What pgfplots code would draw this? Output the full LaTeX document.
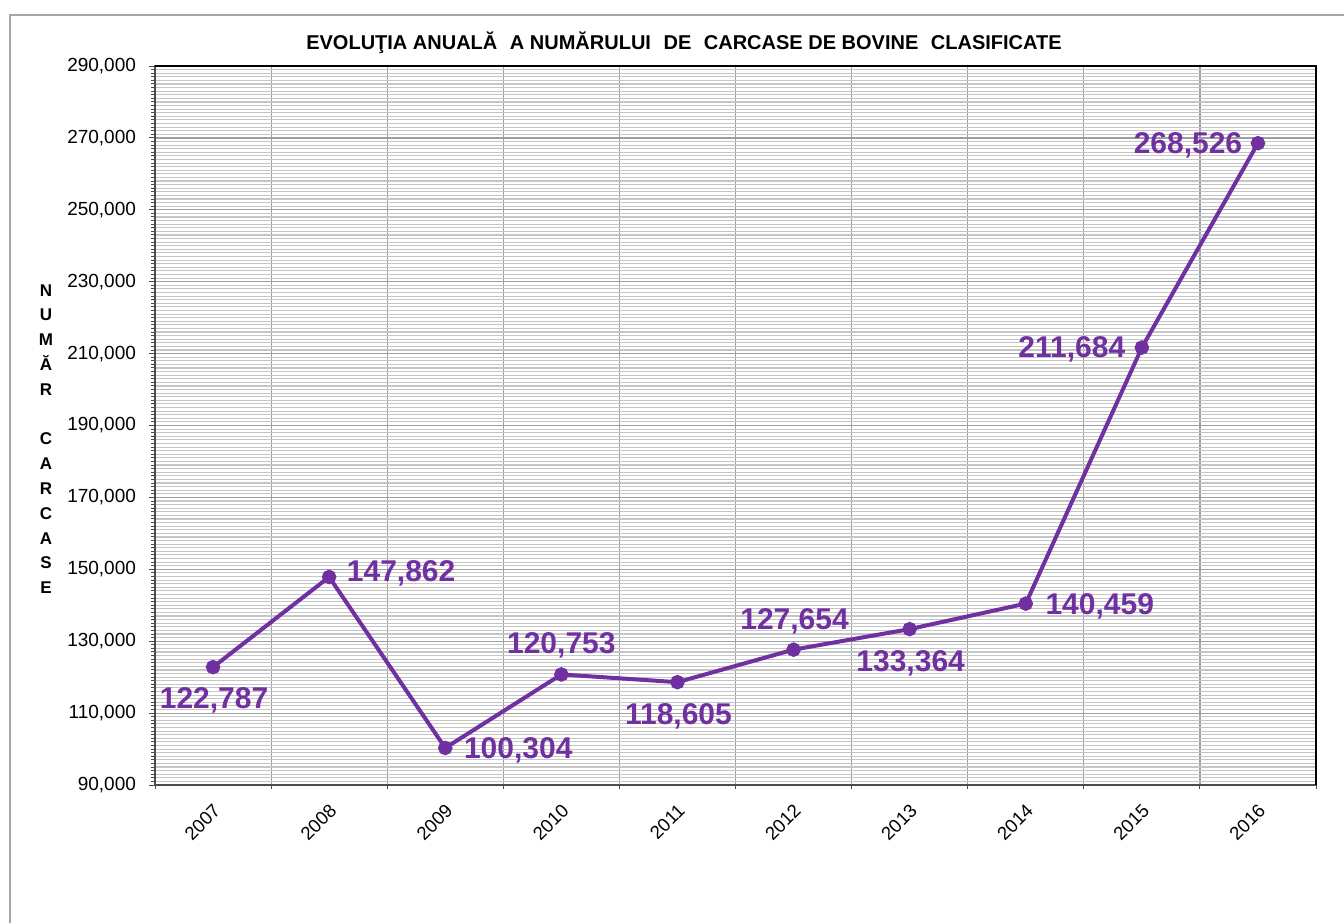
\documentclass[border=0pt]{standalone}
\usepackage{fontspec}
\setmainfont{Liberation Sans}
\usepackage{pgfplots}
\usepackage{pgfplotstable}
\pgfplotsset{compat=1.18}
\definecolor{linepurple}{RGB}{112,48,160}
\pgfplotstableread{
x y dx dy
0 122787 0.5 -16.5
1 147862 36 2
2 100304 36.5 -1
3 120753 0 14.5
4 118605 0.5 -17
5 127654 0.5 14
6 133364 0.5 -17
7 140459 37 -1.5
8 211684 -35 -1
9 268526 -35 -1
}\datatable
\begin{document}
\begin{tikzpicture}[x=1pt,y=1pt]
\useasboundingbox (0,0) rectangle (672,461.5);
\draw[gray!70, line width=1pt] (5,0) -- (5,454) -- (672,454);
\begin{axis}[
  at={(77.5pt,69pt)}, anchor=south west, scale only axis,
  width=580.5pt, height=359.5pt,
  xmin=-0.5, xmax=9.5, ymin=90000, ymax=290000,
  xtick={0,...,9},
  xticklabels={2007,2008,2009,2010,2011,2012,2013,2014,2015,2016},
  major x tick style={draw=none},
  minor xtick={-0.5,0.5,...,9.5},
  ytick={90000,110000,...,290000},
  minor y tick num=19,
  xminorgrids=true, ymajorgrids=true, yminorgrids=true, xmajorgrids=false,
  every minor x grid/.style={gray!75, line width=0.6pt},
  every major y grid/.style={gray!75, line width=0.6pt},
  every minor y grid/.style={gray!45, line width=0.55pt},
  tick align=outside, tick pos=left,
  major tick length=3pt, minor tick length=2pt,
  tick style={gray!60!black, line width=0.5pt},
  axis line style={gray!60!black, line width=0.8pt},
  scaled y ticks=false,
  /pgf/number format/assume math mode=true,
  yticklabel={\pgfmathprintnumber[fixed,1000 sep={,}]{\tick}},
  yticklabel style={font=\fontsize{9.5}{11}\selectfont, xshift=-3pt},
  xticklabel style={font=\fontsize{9.3}{11}\selectfont, rotate=45, anchor=north east, xshift=-1pt, yshift=-0.5pt},
  clip=false,
]
\addplot[linepurple, line width=2pt, mark=*, mark size=2.6pt,
  mark options={solid, fill=linepurple},
  nodes near coords,
  point meta=explicit,
  visualization depends on={\thisrow{dx} \as \mydx},
  visualization depends on={\thisrow{dy} \as \mydy},
  nodes near coords={\pgfmathprintnumber[fixed,1000 sep={,},assume math mode=true]{\pgfplotspointmeta}},
  nodes near coords style={anchor=center, inner sep=0pt, xshift=\mydx pt, yshift=\mydy pt,
     font=\fontsize{15}{17}\selectfont\bfseries, text=linepurple},
] table[x=x, y=y, meta=y] {\datatable};
\draw[black, line width=0.8pt] (axis cs:-0.5,290000) -- (axis cs:9.5,290000) -- (axis cs:9.5,90000);
\end{axis}
\node[font=\fontsize{10}{12}\selectfont\bfseries] at (342,440) {EVOLUŢIA ANUALĂ\hspace{0.35em} A NUMĂRULUI\hspace{0.35em} DE\hspace{0.35em} CARCASE DE BOVINE\hspace{0.35em} CLASIFICATE};
\node[font=\fontsize{8.5}{12.4}\selectfont\bfseries, align=center] at (23,242) {N\\U\\M\\Ă\\R\\[12.4pt]C\\A\\R\\C\\A\\S\\E};
\end{tikzpicture}
\end{document}
